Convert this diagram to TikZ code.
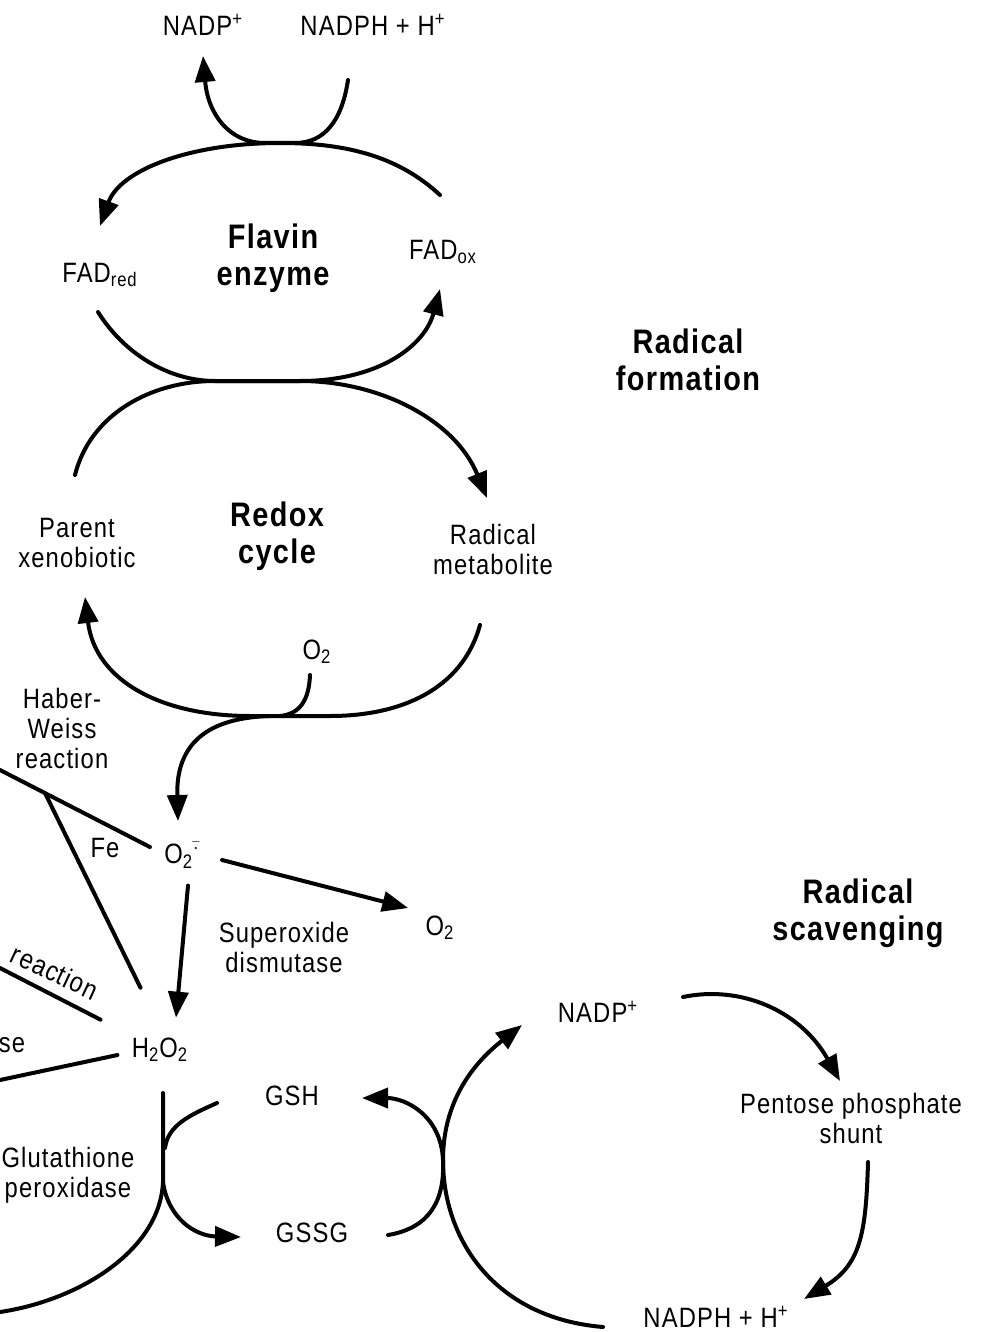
\documentclass[tikz,border=0pt]{standalone}
\usepackage{fontspec}
\setmainfont{Liberation Sans}[FakeStretch=0.85,LetterSpace=4]
\usetikzlibrary{arrows.meta,calc}

\begin{document}
\begin{tikzpicture}[x=0.5pt,y=-0.5pt,
  lbl/.style={inner sep=1pt, align=center, font=\fontsize{14}{15}\selectfont},
  big/.style={inner sep=1pt, align=center, font=\fontsize{17}{18.5}\selectfont\bfseries},
  ln/.style={line width=2pt, line cap=round, line join=round},
  arr/.style={ln, -{Triangle[length=13pt,width=10pt]}}]
\path[use as bounding box, fill=white] (0,0) rectangle (984,1332);

% labels
\node[lbl] (nadp1) at (203,25) {NADP\textsuperscript{+}};
\node[lbl] (nadph1) at (373,25) {NADPH + H\textsuperscript{+}};
\node[lbl] (fadred) at (100,275) {FAD\textsubscript{red}};
\node[big] (flavin) at (273,258) {Flavin\\enzyme};
\node[lbl] (fadox) at (443,252) {FAD\textsubscript{ox}};
\node[big] (radform) at (688,360) {Radical\\formation};
\node[big] (redox) at (277,536) {Redox\\cycle};
\node[lbl] (parent) at (77,543) {Parent\\xenobiotic};
\node[lbl] (radmet) at (493,549) {Radical\\metabolite};
\node[lbl] (o2a) at (317,652) {O\textsubscript{2}};
\node[lbl] (haber) at (62,728) {Haber-\\Weiss\\reaction};
\node[lbl] (fe) at (105,848) {Fe};
\node[lbl] (supox) at (182,855) {O\textsubscript{2}\textsuperscript{$\bar{\cdot}$}};
\node[lbl] (o2b) at (440,928) {O\textsubscript{2}};
\node[lbl] (sod) at (284,947) {Superoxide\\dismutase};
\node[big] (radscav) at (858,913) {Radical\\scavenging};
\node[lbl, rotate=-25] (fenton) at (55,972) {reaction};
\node[lbl] (catal) at (12,1045) {se};
\node[lbl] (hperox) at (160,1050) {H\textsubscript{2}O\textsubscript{2}};
\node[lbl] (gsh) at (292,1096) {GSH};
\node[lbl] (gssg) at (312,1233) {GSSG};
\node[lbl] (gpx) at (68,1175) {Glutathione\\peroxidase};
\node[lbl] (nadp2) at (598,1012) {NADP\textsuperscript{+}};
\node[lbl] (pps) at (851,1118) {Pentose phosphate\\shunt};
\node[lbl] (nadph2) at (716,1317) {NADPH + H\textsuperscript{+}};

% ends of the arcs
\coordinate (nadph1-out) at (348,80);
\coordinate (nadp1-in) at (203,56);
\coordinate (fadox-out) at (440,195);
\coordinate (fadred-in) at (100,226);
\coordinate (fadred-out) at (98,312);
\coordinate (fadox-in) at (440,289);
\coordinate (parent-out) at (75,475);
\coordinate (radmet-in) at (487,498);
\coordinate (radmet-out) at (480,625);
\coordinate (parent-in) at (85,597);
\coordinate (o2a-out) at (310,675);
\coordinate (supox-in) at (178,821);
\coordinate (hw-l) at (0,770);
\coordinate (hw-j) at (45,793);
\coordinate (ft-l) at (0,968);
\coordinate (ct-l) at (0,1080);
\coordinate (gpx-top) at (163,1093);
\coordinate (gpx-split) at (163,1182);
\coordinate (gpx-l) at (0,1312);
\coordinate (gsh-out) at (217,1103);
\coordinate (gssg-in) at (241,1237);
\coordinate (gssg-out) at (388,1235);
\coordinate (gsh-in) at (362,1098);
\coordinate (x-gsh) at (443,1160);
\coordinate (nadph2-out) at (603,1327);
\coordinate (nadp2-in) at (522,1025);
\coordinate (nadp2-out) at (683,997);
\coordinate (pps-in) at (840,1081);
\coordinate (pps-out) at (868,1162);
\coordinate (nadph2-in) at (804,1299);

% flavin enzyme
\draw[arr] (nadph1-out) .. controls (342,120) and (325,143) .. (295,143) -- (265,143) .. controls (230,143) and (208,115) .. (nadp1-in);
\draw[arr] (fadox-out) .. controls (400,158) and (350,143) .. (280,143) .. controls (190,143) and (120,170) .. (fadred-in);
\draw[arr] (fadred-out) .. controls (125,355) and (170,381) .. (215,381) -- (300,381) .. controls (380,381) and (425,345) .. (fadox-in);

% redox cycle
\draw[arr] (parent-out) .. controls (90,415) and (150,381) .. (215,381) -- (300,381) .. controls (380,381) and (455,420) .. (radmet-in);
\draw[arr] (radmet-out) .. controls (462,690) and (400,716) .. (330,716) -- (250,716) .. controls (160,716) and (95,680) .. (parent-in);
\draw[ln] (o2a-out) .. controls (309,700) and (300,714) .. (280,716);
\draw[arr] (270,716) .. controls (200,718) and (176,750) .. (supox-in);

% superoxide
\draw[ln] (hw-l) -- ($(supox.west)+(-12,-8)$);
\draw[ln] (hw-j) -- ($(hperox.north west)+(11,-48)$);
\draw[ln] (ft-l) -- ($(hperox.north west)+(-29,-16)$);
\draw[ln] (ct-l) -- ($(hperox.west)+(-12,5)$);
\draw[arr] ($(supox.east)+(20,5)$) -- ($(o2b.west)+(-15,-20)$);
\draw[arr] ($(supox.south)+(6,15)$) -- ($(hperox.north)+(16,-18)$);

% glutathione
\draw[ln] (gpx-top) -- (gpx-split) .. controls (160,1250) and (80,1300) .. (gpx-l);
\draw[ln] (gsh-out) .. controls (190,1115) and (168,1125) .. (165,1148);
\draw[arr] (gpx-split) .. controls (168,1218) and (195,1236) .. (gssg-in);
\draw[arr] (gssg-out) .. controls (430,1228) and (445,1200) .. (x-gsh) .. controls (441,1115) and (405,1098) .. (gsh-in);
\draw[arr] (nadph2-out) .. controls (495,1318) and (443,1240) .. (x-gsh) .. controls (443,1095) and (480,1058) .. (nadp2-in);
\draw[arr] (nadp2-out) .. controls (740,985) and (800,1010) .. (pps-in);
\draw[arr] (pps-out) .. controls (866,1235) and (860,1265) .. (nadph2-in);
\end{tikzpicture}
\end{document}
